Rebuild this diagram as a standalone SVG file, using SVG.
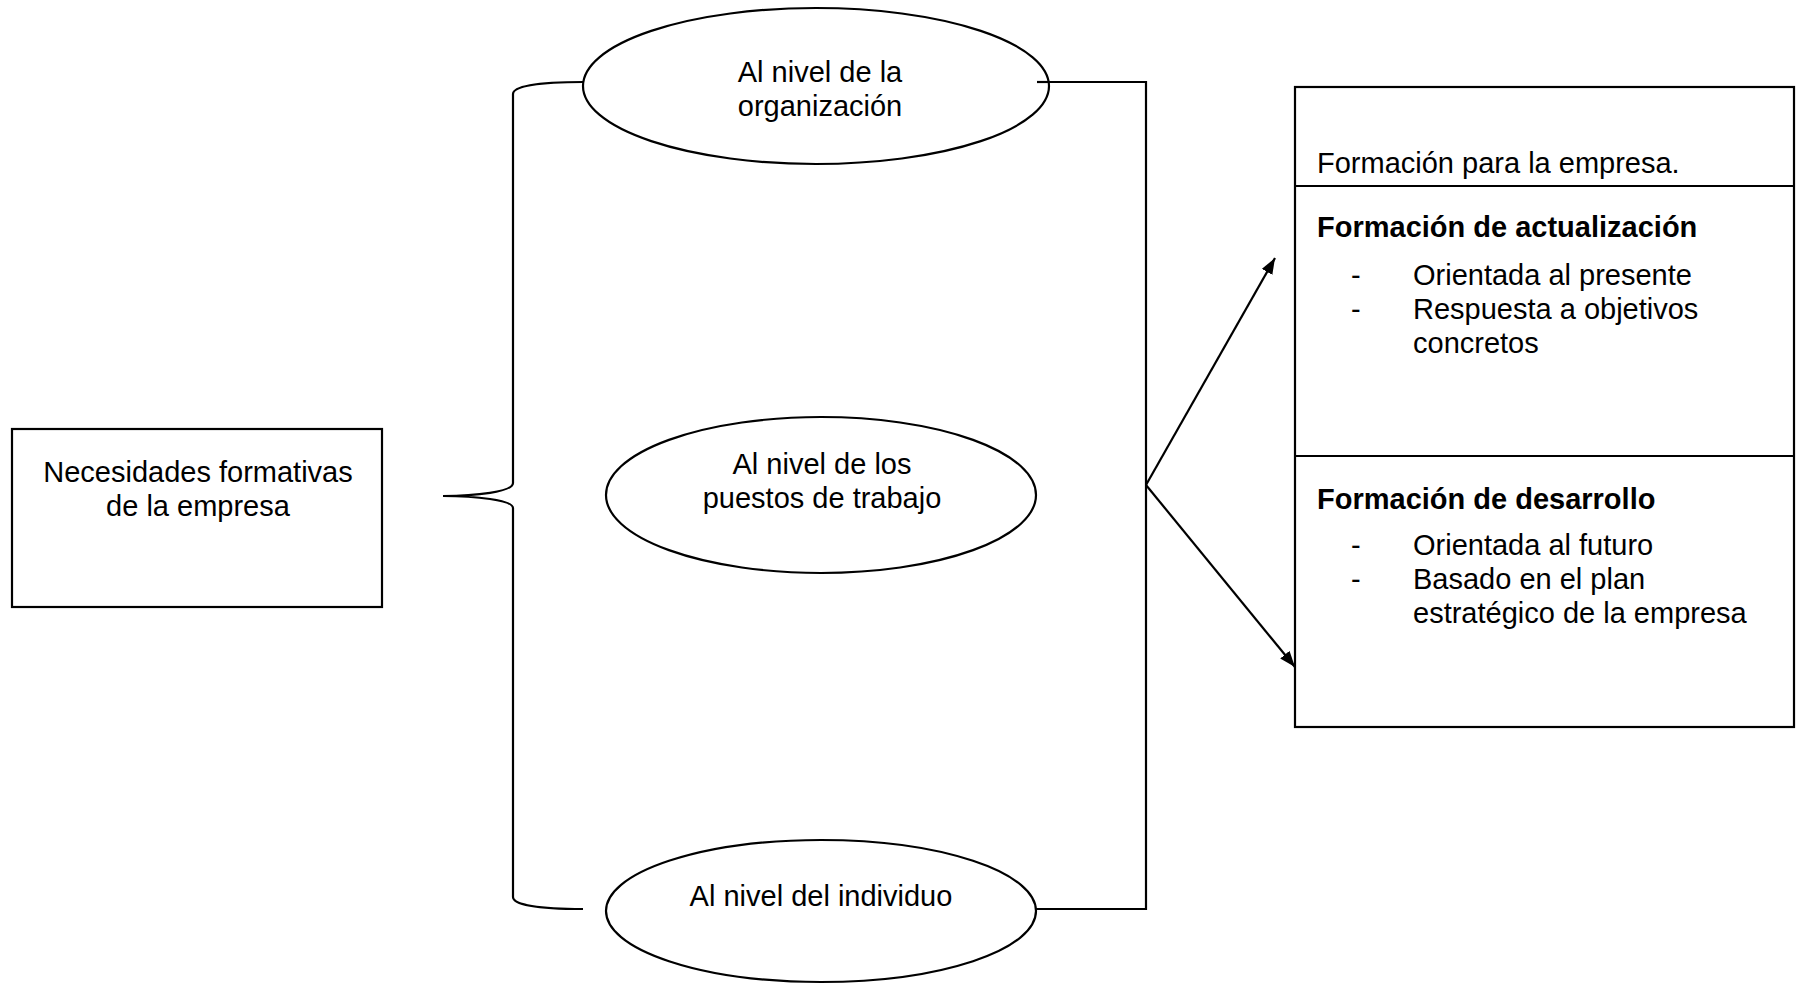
<svg xmlns="http://www.w3.org/2000/svg" width="1796" height="984" viewBox="0 0 1796 984">
  <defs>
    <marker id="arrow" markerUnits="userSpaceOnUse" markerWidth="18" markerHeight="14" refX="16" refY="6" orient="auto">
      <path d="M0,0 L16,6 L0,12 z" fill="#000"/>
    </marker>
    <style>
      .shape { fill: #fff; stroke: #000; stroke-width: 2.2; }
      .line { fill: none; stroke: #000; stroke-width: 2.2; }
      .txt { font-family: "Liberation Sans", Arial, sans-serif; font-size: 29px; fill: #000; }
      .mid { text-anchor: middle; }
      .bold { font-weight: bold; }
    </style>
  </defs>
  <rect width="1796" height="984" fill="#fff"/>

  <!-- brace, side bracket and arrows -->
  <g id="connectors">
    <path class="line" d="M583,82 C540,82 513,86 513,94 L513,483 C513,492 475,496 443,496 C475,496 513,500 513,508 L513,897 C513,905 540,909 583,909"/>
    <path class="line" d="M1037,82 H1146 V909 H1035"/>
    <line class="line" x1="1146" y1="485" x2="1275" y2="258" marker-end="url(#arrow)"/>
    <line class="line" x1="1146" y1="485" x2="1295" y2="667" marker-end="url(#arrow)"/>
  </g>

  <g id="necesidades">
    <rect class="shape" x="12" y="429" width="370" height="178"/>
    <text class="txt mid" x="198" y="482">Necesidades formativas</text>
    <text class="txt mid" x="198" y="516">de la empresa</text>
  </g>

  <g id="nivel-organizacion">
    <ellipse class="shape" cx="816" cy="86" rx="233" ry="78"/>
    <line class="line" x1="1037" y1="82" x2="1050" y2="82"/>
    <text class="txt mid" x="820" y="82">Al nivel de la</text>
    <text class="txt mid" x="820" y="116">organización</text>
  </g>

  <g id="nivel-puestos">
    <ellipse class="shape" cx="821" cy="495" rx="215" ry="78"/>
    <text class="txt mid" x="822" y="474">Al nivel de los</text>
    <text class="txt mid" x="822" y="508">puestos de trabajo</text>
  </g>

  <g id="nivel-individuo">
    <ellipse class="shape" cx="821" cy="911" rx="215" ry="71"/>
    <text class="txt mid" x="821" y="906">Al nivel del individuo</text>
  </g>

  <g id="formacion">
    <rect class="shape" x="1295" y="87" width="499" height="640"/>
    <line class="line" x1="1295" y1="186" x2="1794" y2="186"/>
    <line class="line" x1="1295" y1="456" x2="1794" y2="456"/>
    <text class="txt" x="1317" y="173">Formación para la empresa.</text>

    <text class="txt bold" x="1317" y="237">Formación de actualización</text>
    <text class="txt" x="1351" y="285">-</text>
    <text class="txt" x="1413" y="285">Orientada al presente</text>
    <text class="txt" x="1351" y="319">-</text>
    <text class="txt" x="1413" y="319">Respuesta a objetivos</text>
    <text class="txt" x="1413" y="353">concretos</text>

    <text class="txt bold" x="1317" y="509">Formación de desarrollo</text>
    <text class="txt" x="1351" y="555">-</text>
    <text class="txt" x="1413" y="555">Orientada al futuro</text>
    <text class="txt" x="1351" y="589">-</text>
    <text class="txt" x="1413" y="589">Basado en el plan</text>
    <text class="txt" x="1413" y="623">estratégico de la empresa</text>
  </g>
</svg>
